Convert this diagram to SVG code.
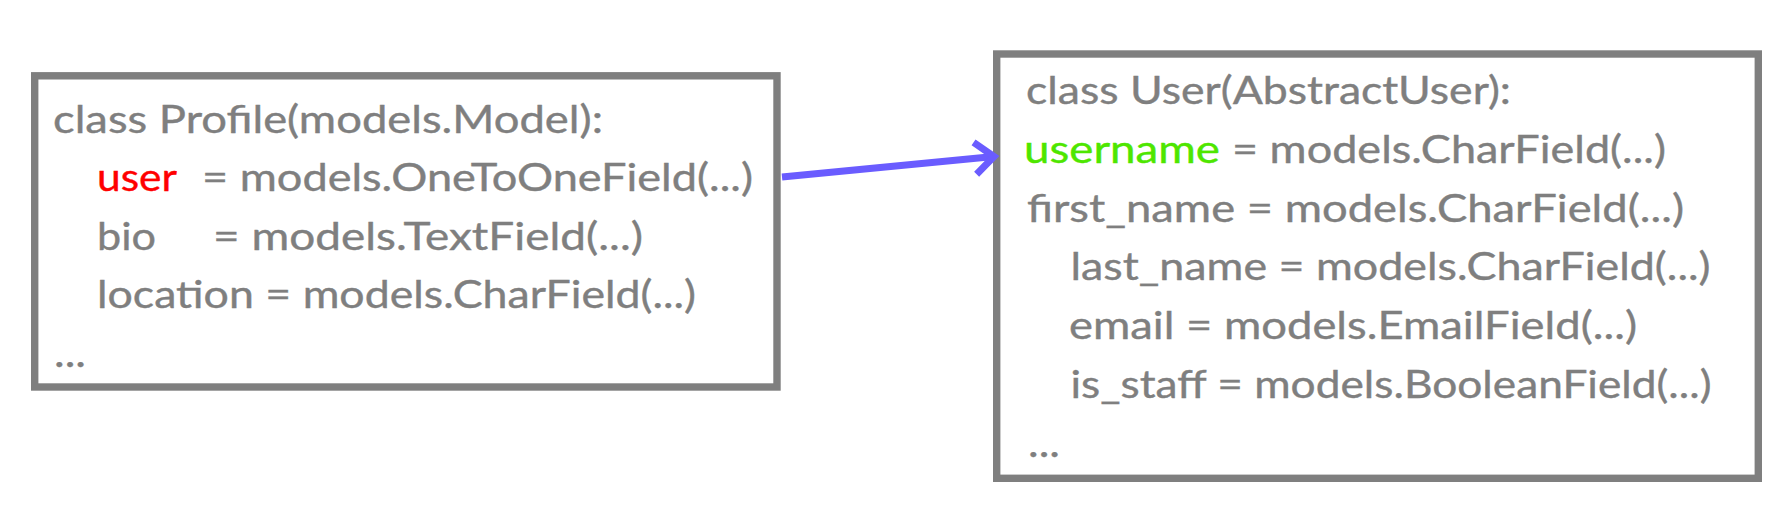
<svg xmlns="http://www.w3.org/2000/svg" width="1780" height="508" viewBox="0 0 1780 508">
  <style>
    .box { fill: #ffffff; stroke: #7f7f7f; stroke-width: 7.4; }
    .t { font-family: Lato, "Open Sans", "Liberation Sans", sans-serif; font-size: 38.5px; fill: #7f7f7f; stroke: #7f7f7f; stroke-width: 0.4; }
    .red { fill: #ff0000; stroke: #ff0000; }
    .green { fill: #4ee600; stroke: #4ee600; }
    .conn { fill: none; stroke: #6a5cff; stroke-width: 7; }
  </style>
  <defs>
    <marker id="chev" viewBox="-30 -25 40 50" markerWidth="40" markerHeight="50" refX="0" refY="0" orient="auto" markerUnits="userSpaceOnUse">
      <path d="M -19 -16 L 0 0 L -19 16" fill="none" stroke="#6a5cff" stroke-width="7" stroke-linejoin="miter" stroke-miterlimit="10"/>
    </marker>
  </defs>
  <rect width="1780" height="508" fill="#ffffff"/>

  <g id="profile">
    <rect class="box" x="34.7" y="75.8" width="742.3" height="311.2"/>
    <text class="t" x="53" y="132.7" textLength="550" lengthAdjust="spacingAndGlyphs">class Profile(models.Model):</text>
    <text class="t red" x="97" y="191.2" textLength="80" lengthAdjust="spacingAndGlyphs">user</text>
    <text class="t" x="202" y="191.2" textLength="551" lengthAdjust="spacingAndGlyphs">= models.OneToOneField(...)</text>
    <text class="t" x="97" y="249.7" textLength="59" lengthAdjust="spacingAndGlyphs">bio</text>
    <text class="t" x="213" y="249.7" textLength="430" lengthAdjust="spacingAndGlyphs">= models.TextField(...)</text>
    <text class="t" x="97" y="308.2" textLength="599" lengthAdjust="spacingAndGlyphs">location = models.CharField(...)</text>
    <text class="t" x="54" y="366.7" textLength="32" lengthAdjust="spacingAndGlyphs">...</text>
  </g>

  <g id="user">
    <rect class="box" x="996.7" y="54" width="761.6" height="424.3"/>
    <text class="t" x="1026" y="104" textLength="485" lengthAdjust="spacingAndGlyphs">class User(AbstractUser):</text>
    <text class="t green" x="1024" y="162.8" textLength="196" lengthAdjust="spacingAndGlyphs">username</text>
    <text class="t" x="1232" y="162.8" textLength="434" lengthAdjust="spacingAndGlyphs">= models.CharField(...)</text>
    <text class="t" x="1027" y="221.6" textLength="657" lengthAdjust="spacingAndGlyphs">first_name = models.CharField(...)</text>
    <text class="t" x="1070.5" y="280.4" textLength="640" lengthAdjust="spacingAndGlyphs">last_name = models.CharField(...)</text>
    <text class="t" x="1069" y="339.2" textLength="568" lengthAdjust="spacingAndGlyphs">email = models.EmailField(...)</text>
    <text class="t" x="1070.5" y="398" textLength="641" lengthAdjust="spacingAndGlyphs">is_staff = models.BooleanField(...)</text>
    <text class="t" x="1028" y="456.8" textLength="32" lengthAdjust="spacingAndGlyphs">...</text>
  </g>

  <g id="connectors">
    <path class="conn" d="M 782 177 L 994 156.5" marker-end="url(#chev)"/>
  </g>
</svg>
